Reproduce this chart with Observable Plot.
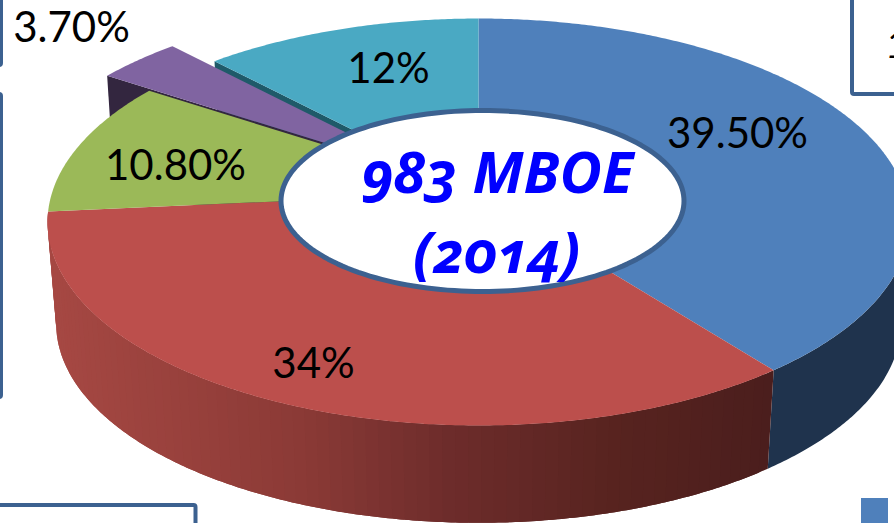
<!DOCTYPE html>
<html>
<head>
<meta charset="utf-8">
<script src="https://cdn.jsdelivr.net/npm/d3@7"></script>
<script src="https://cdn.jsdelivr.net/npm/@observablehq/plot@0.6"></script>
<style>
html,body{margin:0;padding:0;background:#fff;overflow:hidden}
svg{display:block;background:#fff}
.onum text, text.onum{font-feature-settings:"onum" 1;font-variant-numeric:oldstyle-nums}
</style>
</head>
<body>
<div id="chart"></div>
<script>
// data (clockwise from 12 o'clock)
const categories = ["blue", "red", "green", "purple", "teal"];
const values = [39.5, 34, 10.8, 3.7, 12];
const labels = ["39.50%", "34%", "10.80%", "3.70%", "12%"];
const topColors = ["#4f80bb", "#bc4f4c", "#9bb958", "#8064a1", "#4aa9c3"];
const labelX = [737, 313, 175, 71, 388];
const labelY = [134, 364, 166, 28, 69];
const titleLines = ["983 MBOE", "(2014)"];

// perspective disc
const cx = 478, apexY = 192, a = 426.4, b = 199.2, k = 0.145;
const bottomScale = 0.98, bottomApexY = 294;
const explode = {purple: [-42, -15]};

const project = (deg, r = 1) => {
  const t = deg * Math.PI / 180, u = r * Math.sin(t), v = -r * Math.cos(t), w = 1 - k * v;
  return [a * u / w, b * v / w];
};
const topPt = ([px, py], [dx, dy] = [0, 0]) => ({x: cx + px + dx, y: apexY + py + dy});
const botPt = ([px, py], [dx, dy] = [0, 0]) => ({x: cx + px * bottomScale + dx, y: bottomApexY + py * bottomScale + dy});

const rows = [];
const wallRows = [];
const poly = (id, color, pts, out = rows) => pts.forEach((p) => out.push({id, color, x: p.x, y: p.y}));

let acc = 0;
const slices = categories.map((name, i) => {
  const a0 = acc * 3.6; acc += values[i];
  return {name, a0, a1: acc * 3.6, color: topColors[i]};
});
const byName = Object.fromEntries(slices.map((s) => [s.name, s]));
const arc = (s, off) => {
  const pts = [];
  for (let d = s.a0; d < s.a1; d += 0.5) pts.push(topPt(project(d), off));
  pts.push(topPt(project(s.a1), off));
  return pts;
};
const face = (id, color, deg, off) => poly(id, color, [
  topPt([0, 0], off), topPt(project(deg), off), botPt(project(deg), off), botPt([0, 0], off)
], wallRows);

// cut faces exposed by the exploded slice
face("tealFace", "#1f5a69", byName.teal.a0);
face("purpleFace", "#33263f", byName.purple.a0, explode.purple);
poly("purpleTop", byName.purple.color, [topPt([0, 0], explode.purple), ...arc(byName.purple, explode.purple)], wallRows);

// outer walls: every strip overlaps the next one so no seams show
const redRamp = d3.scaleLinear().domain([50, 300, 450, 620, 770]).range(["#a64843", "#8b3a36", "#6d2c2b", "#57231f", "#4b1e1d"]);
const wallArc = (from, to, id, color) => {
  const ds = [];
  for (let d = from; d < to; d += 0.5) ds.push(d);
  ds.push(to);
  const ps = ds.map((d) => project(d));
  poly(id, color, [...ps.map((p) => topPt(p)), ...ps.slice().reverse().map((p) => botPt(p))], wallRows);
};
wallArc(90, byName.blue.a1, "blueWall", "#1f334d");
for (let d = byName.red.a0; d < byName.red.a1; d += 1.5) {
  const e = Math.min(d + 3, byName.red.a1);
  wallArc(d, e, `redW${d}`, redRamp(cx + project(d + 0.75)[0]));
}

// top faces
for (const s of slices) if (s.name !== "purple") poly(`${s.name}Top`, s.color, [topPt([0, 0]), ...arc(s)]);

// centre hole
const holeCx = 482, holeCy = 200.5, holeRx = 201.5, holeRy = 90.5;
const hole = d3.range(0, 361, 2).map((d) => ({
  x: holeCx + holeRx * Math.cos(d * Math.PI / 180),
  y: holeCy + holeRy * Math.sin(d * Math.PI / 180)
}));

// cropped callout boxes around the chart
const boxes = [
  {x1: -20, x2: 1, y1: -20, y2: 65},
  {x1: -20, x2: 1, y1: 94, y2: 397},
  {x1: 852, x2: 930, y1: -20, y2: 94},
  {x1: -20, x2: 195.5, y1: 505, y2: 570}
];
const legendSwatch = [{x1: 861, x2: 888, y1: 498, y2: 540}];
const labelRows = labels.map((text, i) => ({text, x: labelX[i], y: labelY[i]}));
const sans = "Lato, Carlito, sans-serif";
const titleFont = "'Open Sans', sans-serif";
const boxStroke = "#3c6190";

const chart = Plot.plot({
  width: 894, height: 523, margin: 0,
  style: {background: "#fff"},
  x: {domain: [0, 894], axis: null},
  y: {domain: [523, 0], axis: null},
  color: {type: "identity"},
  marks: [
    Plot.rect(boxes, {x1: "x1", x2: "x2", y1: "y1", y2: "y2", fill: "none", stroke: boxStroke, strokeWidth: 4, rx: 2, clip: true}),
    Plot.rect(legendSwatch, {x1: "x1", x2: "x2", y1: "y1", y2: "y2", fill: topColors[0], clip: true}),
    Plot.line(wallRows, {x: "x", y: "y", z: "id", fill: "color", curve: "linear", clip: true}),
    Plot.line(rows, {x: "x", y: "y", z: "id", fill: "color", curve: "linear", clip: true}),
    Plot.line(hole, {x: "x", y: "y", fill: "white", stroke: boxStroke, strokeWidth: 5, curve: "linear"}),
    Plot.text(labelRows, {x: "x", y: "y", text: "text", fontSize: 42, fontFamily: sans, fill: "#000", lineAnchor: "middle"}),
    Plot.text([titleLines[0]], {x: () => 497, y: () => 174, text: (d) => d, fontSize: 58, fontFamily: titleFont, fontWeight: 700, fontStyle: "italic", fill: "#0000ff", lineAnchor: "middle", className: "onum"}),
    Plot.text([titleLines[1]], {x: () => 496, y: () => 254, text: (d) => d, fontSize: 58, fontFamily: titleFont, fontWeight: 700, fontStyle: "italic", fill: "#0000ff", lineAnchor: "middle", className: "onum"}),
    Plot.text(["1"], {x: () => 885, y: () => 45, text: (d) => d, fontSize: 38, fontFamily: sans, fontStyle: "italic", fill: "#000", textAnchor: "start", lineAnchor: "middle"})
  ]
});
document.getElementById("chart").appendChild(chart);
</script>
</body>
</html>
